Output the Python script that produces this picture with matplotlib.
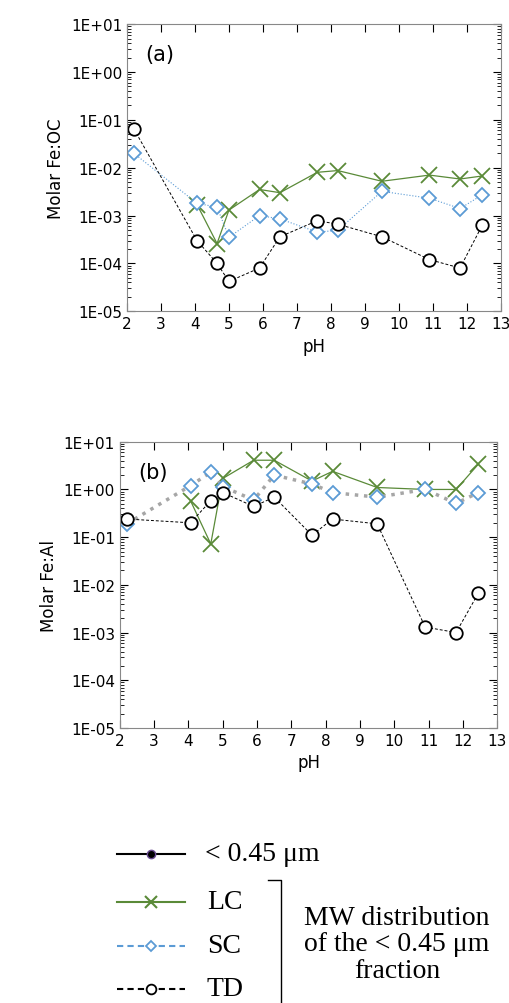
import numpy as np
import matplotlib
matplotlib.use('Agg')
import matplotlib.pyplot as plt
from matplotlib.ticker import LogLocator, FuncFormatter, NullFormatter

ph = [2.2, 4.06, 4.65, 5.0, 5.9, 6.5, 7.6, 8.2, 9.5, 10.9, 11.8, 12.45]

# panel (a) Fe:OC
oc_lc = [np.nan, 1.7e-3, 2.6e-4, 1.3e-3, 3.5e-3, 3.0e-3, 8e-3, 8.7e-3, 5.2e-3, 7e-3, 5.8e-3, 6.7e-3]
oc_sc = [0.02, 1.8e-3, 1.5e-3, 3.5e-4, 1.0e-3, 8.5e-4, 4.5e-4, 4.9e-4, 3.2e-3, 2.3e-3, 1.4e-3, 2.7e-3]
oc_td = [0.065, 3e-4, 1e-4, 4.2e-5, 8e-5, 3.6e-4, 7.8e-4, 6.6e-4, 3.6e-4, 1.2e-4, 8e-5, 6.2e-4]

# panel (b) Fe:Al
al_lc = [np.nan, 0.58, 0.072, 1.7, 4.1, 4.1, 1.5, 2.4, 1.1, 1.0, 1.0, 3.4]
al_sc = [0.19, 1.2, 2.3, 1.15, 0.6, 2.0, 1.3, 0.86, 0.69, 1.0, 0.51, 0.86]
al_td = [0.24, 0.2, 0.58, 0.86, 0.44, 0.69, 0.11, 0.24, 0.19, 1.3e-3, 1e-3, 6.7e-3]

green = '#5a8a38'
blue = '#5b9bd5'

fig = plt.figure(figsize=(5.1, 10.04), dpi=100)
axa = fig.add_axes([0.249, 0.689, 0.733, 0.286])
axb = fig.add_axes([0.235, 0.274, 0.740, 0.285])


def fmt(v, pos):
    e = int(round(np.log10(v)))
    return '1E%+03d' % e


def style(ax, ylabel, tag):
    ax.set_yscale('log')
    ax.set_ylim(1e-5, 10)
    ax.set_xlim(2, 13)
    ax.set_xticks(range(2, 14))
    ax.yaxis.set_major_locator(LogLocator(base=10, numticks=10))
    ax.yaxis.set_minor_locator(LogLocator(base=10, subs=np.arange(2, 10), numticks=10))
    ax.yaxis.set_major_formatter(FuncFormatter(fmt))
    ax.yaxis.set_minor_formatter(NullFormatter())
    ax.tick_params(direction='in', which='both', top=True, right=True, labelsize=11)
    ax.tick_params(which='major', length=6)
    ax.tick_params(which='minor', length=3)
    for s in ax.spines.values():
        s.set_color('#888888')
    ax.set_xlabel('pH', fontsize=12)
    ax.set_ylabel(ylabel, fontsize=12)
    ax.text(0.05, 0.93, tag, transform=ax.transAxes, fontsize=15, va='top')


def draw(ax, lc, sc, td, sc_line_color, sc_lw):
    ax.plot(ph, lc, color=green, lw=0.9, marker='x', ms=11, mew=1.3)
    ax.plot(ph, sc, color=sc_line_color, lw=sc_lw, ls=':', marker='D', ms=7,
            mfc='white', mec=blue, mew=1.3)
    ax.plot(ph, td, color='black', lw=0.7, ls=(0, (3, 2)), marker='o', ms=9,
            mfc='white', mec='black', mew=1.3)


draw(axa, oc_lc, oc_sc, oc_td, blue, 0.8)
style(axa, 'Molar Fe:OC', '(a)')
draw(axb, al_lc, al_sc, al_td, '#a6a6a6', 2.5)
style(axb, 'Molar Fe:Al', '(b)')

# legend drawn in figure pixel coordinates
lg = fig.add_axes([0, 0, 1, 1], facecolor='none')
lg.set_xlim(0, 510)
lg.set_ylim(1004, 0)
lg.axis('off')
serif = ['Liberation Serif', 'DejaVu Serif']
fs = 20
lg.plot([117, 185], [855, 855], color='black', lw=1.5)
lg.plot([151], [855], marker='o', ms=6, color='black', mec='#6a4c93')
lg.text(205, 855, '< 0.45 μm', fontsize=fs, va='center', family=serif)
lg.plot([117, 185], [903, 903], color=green, lw=1.5)
lg.plot([151], [903], marker='x', ms=9, color=green, mew=1.5)
lg.text(207, 903, 'LC', fontsize=fs, va='center', family=serif)
lg.plot([117, 185], [947, 947], color=blue, lw=1.5, ls=(0, (3, 2)))
lg.plot([151], [947], marker='D', ms=5, mfc='white', mec=blue, mew=1.3)
lg.text(207, 947, 'SC', fontsize=fs, va='center', family=serif)
lg.plot([117, 185], [990, 990], color='black', lw=1.5, ls=(0, (3, 2)))
lg.plot([151], [990], marker='o', ms=7, mfc='white', mec='black', mew=1.3)
lg.text(207, 990, 'TD', fontsize=fs, va='center', family=serif)
lg.plot([268, 281, 281], [881, 881, 1004], color='black', lw=1)
lg.text(397, 945, 'MW distribution\nof the < 0.45 μm\nfraction', fontsize=fs,
        ha='center', va='center', family=serif, linespacing=1.1)

fig.savefig('out.png', dpi=100)
